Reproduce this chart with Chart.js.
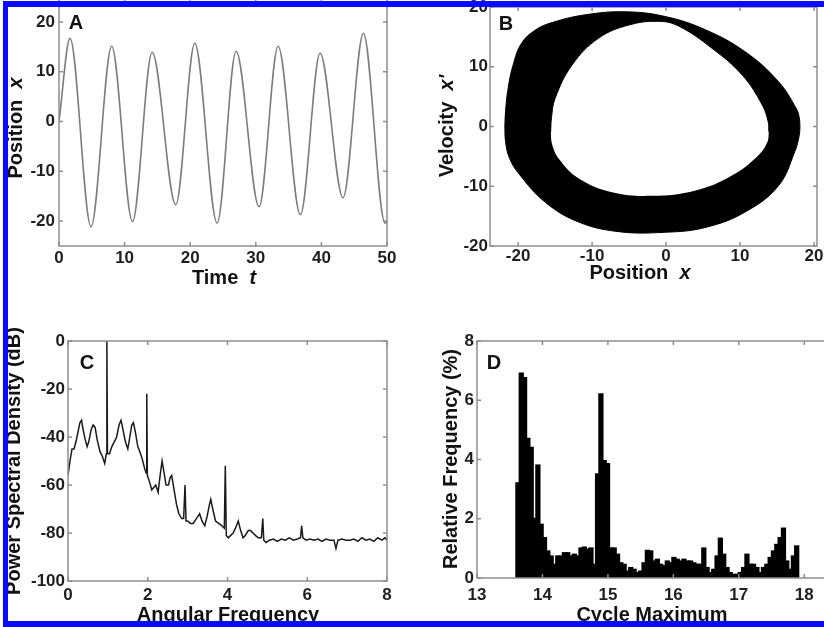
<!DOCTYPE html>
<html>
<head>
<meta charset="utf-8">
<script src="https://cdn.jsdelivr.net/npm/chart.js@4.4.1/dist/chart.umd.min.js"></script>
<style>
  html, body { margin: 0; padding: 0; background: #fff; }
  body { width: 824px; height: 627px; position: relative; overflow: hidden; }
  canvas { position: absolute; }
  .edge { position: absolute; background: #0a0aff; z-index: 5; }
</style>
</head>
<body>
<canvas id="seriesChart" width="410" height="320" style="left:0px; top:-20px"></canvas>
<canvas id="phaseChart" width="420" height="320" style="left:412px; top:-20px"></canvas>
<canvas id="psdChart" width="410" height="327" style="left:0px; top:300px"></canvas>
<canvas id="histChart" width="460" height="327" style="left:412px; top:300px"></canvas>
<div class="edge" style="left:3px; top:1px; width:821px; height:6px"></div>
<div class="edge" style="left:3px; top:1px; width:5px; height:626px"></div>
<div class="edge" style="left:3px; top:621px; width:821px; height:6px"></div>
<script>
// A: position over time (peaks and troughs)
const timeT = [0, 1.68, 4.88, 8.03, 11.2, 14.2, 17.8, 20.7, 24.1, 27.0, 30.5, 33.4, 36.8, 39.8, 43.3, 46.4, 49.7, 50];
const positionX = [0, 16.7, -21.1, 15.1, -20.1, 13.9, -16.7, 15.7, -20.4, 14.1, -17.1, 15.1, -18.7, 13.7, -15.3, 17.7, -20.4, -20.1];
const ticksTime = [0, 10, 20, 30, 40, 50];
const ticksPos = [-20, -10, 0, 10, 20];

// B: phase portrait band, outer and inner edges split into upper/lower arcs
const outerUpper = [[-21.8, 0], [-21.7, 2.5], [-21.4, 6.0], [-20.7, 10.2], [-19.5, 14.0], [-17.6, 16.2], [-15.4, 17.4], [-10.9, 18.7], [-5.5, 19.2], [-0.1, 18.4], [5.3, 16.2], [10.7, 12.5], [15.2, 7.5], [17.6, 3.0], [18.0, 1.5], [18.1, 0]];
const outerLower = [[-21.8, 0], [-21.7, -2.5], [-21.2, -5.2], [-19.9, -7.9], [-16.3, -12.7], [-11.8, -16.0], [-6.4, -17.6], [-0.1, -17.7], [5.3, -16.9], [10.7, -14.3], [15.2, -9.9], [17.4, -4.2], [18.0, -1.5], [18.1, 0]];
const innerUpper = [[-15.6, -0.9], [-15.5, 1.3], [-15.0, 4.7], [-12.7, 10.3], [-9.1, 14.8], [-5.0, 17.0], [-1.0, 17.6], [1.7, 16.8], [6.2, 13.1], [10.3, 8.6], [13.0, 3.6], [13.8, 0.8], [13.9, -0.9]];
const innerLower = [[-15.6, -0.9], [-15.4, -3.0], [-14.5, -5.4], [-11.8, -8.7], [-7.3, -11.0], [-1.9, -11.6], [4.0, -10.7], [8.9, -8.2], [12.5, -4.8], [13.7, -2.6], [13.9, -0.9]];
const ticksPhase = [-20, -10, 0, 10, 20];

// C: power spectral density
const freqW = [0.00, 0.05, 0.10, 0.15, 0.20, 0.25, 0.30, 0.34, 0.38, 0.43, 0.48, 0.52, 0.58, 0.63, 0.68, 0.73, 0.80, 0.86, 0.92, 0.96, 0.975, 0.99,
  1.04, 1.10, 1.16, 1.22, 1.28, 1.33, 1.38, 1.44, 1.50, 1.55, 1.60, 1.64, 1.69, 1.75, 1.80, 1.86, 1.92, 1.96, 1.975, 1.99,
  2.05, 2.10, 2.15, 2.20, 2.26, 2.31, 2.36, 2.41, 2.46, 2.52, 2.56, 2.60, 2.65, 2.72, 2.78, 2.85, 2.90, 2.935, 2.96,
  3.00, 3.07, 3.14, 3.22, 3.30, 3.36, 3.43, 3.49, 3.55, 3.58, 3.63, 3.70, 3.78, 3.86, 3.92, 3.945, 3.97,
  4.02, 4.08, 4.14, 4.20, 4.27, 4.33, 4.39, 4.45, 4.52, 4.58, 4.64, 4.70, 4.77, 4.85, 4.885, 4.91, 4.97,
  5.05, 5.15, 5.25, 5.35, 5.45, 5.55, 5.65, 5.75, 5.83, 5.86, 5.89, 5.97, 6.07, 6.17, 6.27, 6.37, 6.47, 6.57, 6.67, 6.72, 6.77,
  6.87, 6.97, 7.07, 7.17, 7.27, 7.37, 7.47, 7.57, 7.67, 7.77, 7.87, 7.95, 8.00];
const psdDb = [-56, -50, -45, -45, -42, -38, -34, -33, -37, -41, -44, -42, -37, -35, -36, -41, -46, -48, -51, -47, 0, -47,
  -47, -44, -42, -40, -35, -33, -37, -42, -45, -40, -35, -34, -38, -44, -46, -49, -53, -55, -22, -56,
  -59, -62, -61, -60, -63, -56, -50, -55, -60, -60, -57, -56, -61, -68, -72, -74, -74, -60, -75,
  -75, -76, -76, -74, -72, -75, -77, -73, -68, -66, -70, -75, -76, -77, -78, -52, -81,
  -82, -81, -80, -78, -75, -79, -82, -81, -79, -79, -80, -81, -82, -82, -74, -83, -84,
  -83, -82.5, -83.5, -82.5, -83, -82, -83, -82.5, -82, -77, -82, -83, -82.5, -83, -82.5, -83.5, -82.5, -83, -83, -86.5, -83,
  -82.5, -83, -83, -82.5, -83.5, -82, -83, -82.5, -83.5, -82, -83, -82, -83];
const ticksFreq = [0, 2, 4, 6, 8];
const ticksDb = [-100, -80, -60, -40, -20, 0];

// D: histogram of cycle maxima
const binCentre = [13.625, 13.676, 13.727, 13.777, 13.828, 13.879, 13.930, 13.980, 14.031, 14.082,
  14.133, 14.183, 14.234, 14.285, 14.335, 14.386, 14.437, 14.487, 14.538, 14.589,
  14.640, 14.690, 14.741, 14.792, 14.842, 14.893, 14.944, 14.994, 15.045, 15.096,
  15.147, 15.197, 15.248, 15.299, 15.349, 15.400, 15.451, 15.501, 15.552, 15.603,
  15.654, 15.704, 15.755, 15.806, 15.856, 15.907, 15.958, 16.008, 16.059, 16.110,
  16.161, 16.211, 16.262, 16.313, 16.363, 16.414, 16.465, 16.515, 16.566, 16.617,
  16.668, 16.718, 16.769, 16.820, 16.870, 16.921, 16.972, 17.022, 17.073, 17.124,
  17.175, 17.225, 17.276, 17.327, 17.377, 17.428, 17.479, 17.529, 17.580, 17.631,
  17.682, 17.732, 17.783, 17.834, 17.884];
const relFreq = [3.2, 6.9, 6.75, 4.7, 4.4, 2.0, 3.8, 1.8, 1.35, 0.9,
  0.73, 0.45, 0.73, 0.73, 0.84, 0.84, 0.73, 0.79, 0.73, 1.0,
  1.03, 0.96, 1.0, 0.45, 3.5, 6.2, 3.95, 3.85, 1.0, 1.0,
  0.79, 0.5, 0.45, 0.22, 0.34, 0.28, 0.17, 0.22, 0.5, 0.92,
  0.9, 0.56, 0.62, 0.45, 0.4, 0.56, 0.5, 0.68, 0.62, 0.56,
  0.62, 0.56, 0.56, 0.5, 0.45, 0.45, 1.0, 0.34, 0.17, 0.28,
  0.73, 1.33, 0.79, 0.34, 0.17, 0.11, 0.11, 0.17, 0.34, 0.79,
  0.45, 0.45, 0.34, 0.17, 0.34, 0.45, 0.68, 0.9, 1.12, 1.35,
  1.67, 0.56, 0.28, 0.73, 1.07];
const ticksCycle = [13, 14, 15, 16, 17, 18];
const ticksRel = [0, 2, 4, 6, 8];

const FONT = "'Liberation Sans', Arial, Helvetica, sans-serif";
Chart.defaults.font.family = FONT;
Chart.defaults.animation = false;
Chart.defaults.events = [];
Chart.defaults.plugins.legend.display = false;
Chart.defaults.plugins.tooltip.enabled = false;

const toPts = (xs, ys) => xs.map((x, i) => ({ x: x, y: ys[i] }));
const pairPts = (arr) => arr.map((p) => ({ x: p[0], y: p[1] }));

// MATLAB-like box: grey frame with inward ticks, plus titles drawn as text
const boxAxes = {
  id: "boxAxes",
  afterDraw(chart, args, opts) {
    const { ctx, chartArea: a, scales } = chart;
    ctx.save();
    ctx.strokeStyle = "#8e8e8e";
    ctx.lineWidth = 1.5;
    ctx.strokeRect(a.left, a.top, a.right - a.left, a.bottom - a.top);
    ctx.beginPath();
    scales.x.ticks.forEach((t) => {
      const px = scales.x.getPixelForValue(t.value);
      ctx.moveTo(px, a.bottom);
      ctx.lineTo(px, a.bottom - 4);
      ctx.moveTo(px, a.top);
      ctx.lineTo(px, a.top + 4);
    });
    scales.y.ticks.forEach((t) => {
      const py = scales.y.getPixelForValue(t.value);
      ctx.moveTo(a.left, py);
      ctx.lineTo(a.left + 4, py);
      ctx.moveTo(a.right, py);
      ctx.lineTo(a.right - 4, py);
    });
    ctx.stroke();

    ctx.fillStyle = "#111";
    ctx.textBaseline = "middle";
    ctx.textAlign = "left";
    (opts.labels || []).forEach((lab) => {
      let w = 0;
      lab.parts.forEach((p) => {
        ctx.font = p[1] + " 20px " + FONT;
        w += ctx.measureText(p[0]).width;
      });
      ctx.save();
      ctx.translate(lab.x - opts.dx, lab.y - opts.dy);
      if (lab.rot) ctx.rotate(-Math.PI / 2);
      let x = -w / 2;
      lab.parts.forEach((p) => {
        ctx.font = p[1] + " 20px " + FONT;
        ctx.fillText(p[0], x, 1);
        x += ctx.measureText(p[0]).width;
      });
      ctx.restore();
    });
    ctx.restore();
  },
};

function axis(min, max, ticks, size, pad, horizontal) {
  return {
    type: "linear",
    min: min,
    max: max,
    offset: false,
    grid: { display: false, drawTicks: false },
    border: { display: false },
    afterBuildTicks: (s) => {
      s.ticks = ticks.map((v) => ({ value: v }));
    },
    afterFit: (s) => {
      if (horizontal) s.height = size;
      else s.width = size;
    },
    ticks: {
      padding: pad,
      color: "#1e1e1e",
      font: { size: 17, weight: "bold" },
      maxRotation: 0,
      autoSkip: false,
    },
  };
}

function baseOptions(padding, xAxis, yAxis, dx, dy, labels) {
  return {
    responsive: false,
    layout: { padding: padding },
    scales: { x: xAxis, y: yAxis },
    plugins: { boxAxes: { dx: dx, dy: dy, labels: labels } },
  };
}

new Chart(document.getElementById("seriesChart"), {
  type: "line",
  data: {
    datasets: [
      {
        data: toPts(timeT, positionX),
        borderColor: "#7c7c7c",
        borderWidth: 1.6,
        pointRadius: 0,
        cubicInterpolationMode: "monotone",
      },
    ],
  },
  options: baseOptions(
    { left: 0, top: 17, right: 23, bottom: 0 },
    axis(0, 50, ticksTime, 54, 2, true),
    axis(-25, 25, ticksPos, 59, 4, false),
    0, -20,
    [
      { x: 76, y: 22, parts: [["A", "bold"]] },
      { x: 224, y: 277, parts: [["Time  ", "bold"], ["t", "italic bold"]] },
      { x: 15, y: 128, rot: true, parts: [["Position  ", "bold"], ["x", "italic bold"]] },
    ]
  ),
  plugins: [boxAxes],
});

new Chart(document.getElementById("phaseChart"), {
  type: "line",
  data: {
    datasets: [
      { data: pairPts(outerUpper), fill: "+1", order: 2, backgroundColor: "#000", borderColor: "#000", borderWidth: 1, pointRadius: 0, tension: 0.4 },
      { data: pairPts(outerLower), fill: false, order: 2, borderColor: "#000", borderWidth: 1, pointRadius: 0, tension: 0.4 },
      { data: pairPts(innerUpper), fill: "+1", order: 1, backgroundColor: "#fff", borderColor: "#000", borderWidth: 1, pointRadius: 0, tension: 0.4 },
      { data: pairPts(innerLower), fill: false, order: 1, borderColor: "#000", borderWidth: 1, pointRadius: 0, tension: 0.4 },
    ],
  },
  options: baseOptions(
    { left: 0, top: 27, right: 15, bottom: 0 },
    axis(-23.8, 20.4, ticksPhase, 54, 0, true),
    axis(-20, 20, ticksPhase, 78, 2, false),
    412, -20,
    [
      { x: 506, y: 23, parts: [["B", "bold"]] },
      { x: 640, y: 272, parts: [["Position  ", "bold"], ["x", "italic bold"]] },
      { x: 446, y: 126, rot: true, parts: [["Velocity  ", "bold"], ["x'", "italic bold"]] },
    ]
  ),
  plugins: [boxAxes],
});

new Chart(document.getElementById("psdChart"), {
  type: "line",
  data: {
    datasets: [
      {
        data: toPts(freqW, psdDb),
        borderColor: "#1a1a1a",
        borderWidth: 1.5,
        pointRadius: 0,
        tension: 0,
      },
    ],
  },
  options: baseOptions(
    { left: 0, top: 41, right: 23, bottom: 0 },
    axis(0, 8, ticksFreq, 46, 4, true),
    axis(-100, 0, ticksDb, 68, 3, false),
    0, 300,
    [
      { x: 87, y: 362, parts: [["C", "bold"]] },
      { x: 228, y: 614, parts: [["Angular Frequency", "bold"]] },
      { x: 13, y: 461, rot: true, parts: [["Power Spectral Density (dB)", "bold"]] },
    ]
  ),
  plugins: [boxAxes],
});

new Chart(document.getElementById("histChart"), {
  type: "bar",
  data: {
    datasets: [
      {
        data: toPts(binCentre, relFreq),
        backgroundColor: "#000",
        borderWidth: 0,
        inflateAmount: 1,
        barPercentage: 1,
        categoryPercentage: 1,
        grouped: false,
      },
    ],
  },
  options: baseOptions(
    { left: 0, top: 41, right: 35, bottom: 0 },
    axis(13, 18.5, ticksCycle, 49, 7, true),
    axis(0, 8, ticksRel, 65, 3, false),
    412, 300,
    [
      { x: 494, y: 362, parts: [["D", "bold"]] },
      { x: 652, y: 614, parts: [["Cycle Maximum", "bold"]] },
      { x: 450, y: 459, rot: true, parts: [["Relative Frequency (%)", "bold"]] },
    ]
  ),
  plugins: [boxAxes],
});
</script>
</body>
</html>
